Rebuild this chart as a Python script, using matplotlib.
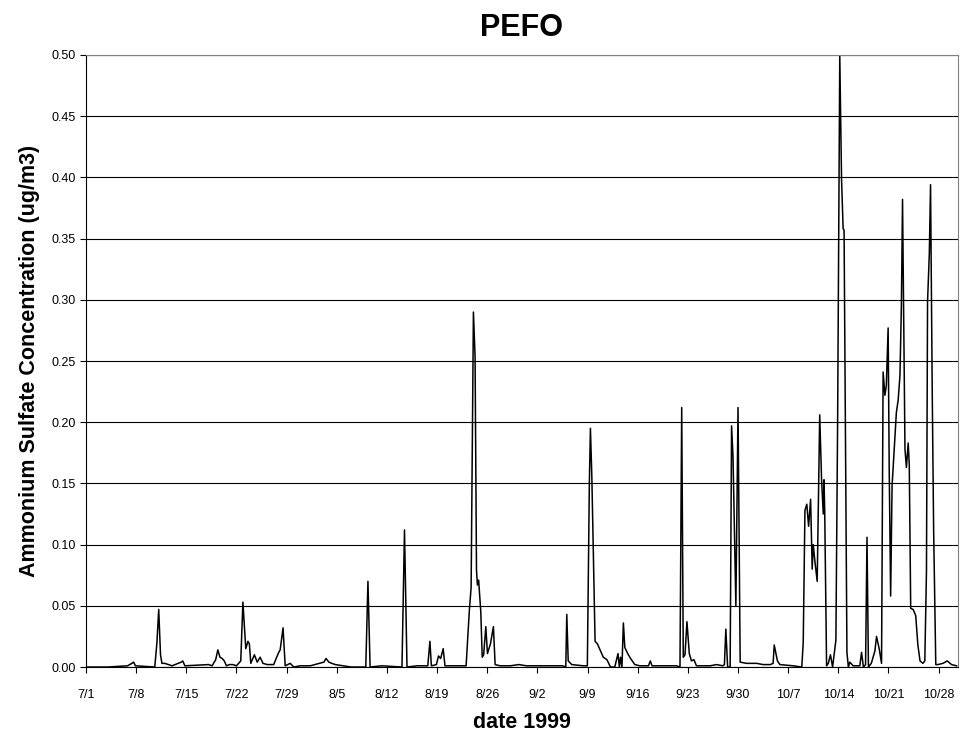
import matplotlib
matplotlib.use("Agg")
import matplotlib.pyplot as plt
import numpy as np
import pandas as pd

plt.rcParams["font.family"] = ["Liberation Sans", "DejaVu Sans"]

# days since 1999-07-01 and ammonium sulfate concentration (ug/m3)
day = [0.0, 3.0, 5.8, 6.4, 6.65, 6.9, 9.6, 9.9, 10.15, 10.4, 10.6, 11.0, 11.5, 12.0,
       13.3, 13.5, 13.8, 17.1, 17.6, 18.1, 18.4, 18.7, 19.0, 19.3, 19.6, 20.0, 20.5,
       21.0, 21.6, 21.9, 22.3, 22.6, 22.8, 23.0, 23.5, 23.9, 24.3, 24.7, 25.3, 26.2,
       26.4, 26.9, 27.1, 27.5, 27.8, 28.5, 29.0, 29.9, 31.3, 33.2, 33.5, 33.9, 34.3,
       34.8, 35.9, 37.0, 39.05, 39.35, 39.65, 41.3, 44.1, 44.45, 44.8, 46.2, 47.7,
       48.0, 48.2, 48.9, 49.2, 49.5, 49.85, 50.1, 51.8, 53.05, 53.5, 53.75, 54.07,
       54.3, 54.5, 54.63, 54.8, 55.1, 55.3, 55.5, 55.8, 56.03, 56.45, 56.86, 57.1,
       57.8, 59.2, 60.4, 61.5, 63.4, 66.5, 66.96, 67.1, 67.3, 67.8, 69.4, 69.97,
       70.25, 70.4, 70.6, 70.9, 71.05, 71.37, 71.74, 72.2, 72.7, 73.2, 73.8, 74.25,
       74.44, 74.6, 74.8, 75.0, 75.2, 75.6, 76.0, 76.6, 77.3, 78.5, 78.76, 79.0,
       80.6, 82.4, 82.9, 83.14, 83.36, 83.6, 83.87, 84.2, 84.5, 84.85, 85.2, 87.1,
       88.0, 88.9, 89.1, 89.3, 89.55, 89.9, 90.1, 90.3, 90.7, 91.0, 91.3, 92.2,
       93.6, 94.5, 95.5, 95.9, 96.05, 96.5, 96.85, 98.7, 99.9, 100.1, 100.34,
       100.6, 100.85, 101.13, 101.35, 101.5, 101.7, 102.05, 102.4, 102.66, 102.9,
       103.0, 103.1, 103.36, 103.6, 103.9, 104.2, 104.66, 104.9, 105.2, 105.45,
       105.67, 105.8, 106.2, 106.4, 106.6, 107.07, 108.0, 108.24, 108.5, 108.8,
       109.0, 109.2, 109.6, 110.1, 110.33, 110.7, 111.03, 111.25, 111.5, 111.7,
       111.95, 112.1, 112.3, 112.5, 112.9, 113.1, 113.35, 113.6, 113.8, 113.96,
       114.14, 114.3, 114.5, 114.75, 114.9, 115.1, 115.44, 115.8, 116.1, 116.4,
       116.8, 117.07, 117.3, 117.45, 117.7, 117.87, 118.1, 118.3, 118.6, 118.9,
       119.6, 120.2, 120.8, 121.5]
conc = [0.000, 0.000, 0.001, 0.003, 0.004, 0.001, 0.000, 0.020, 0.047, 0.010, 0.003,
        0.003, 0.002, 0.001, 0.004, 0.005, 0.001, 0.002, 0.001, 0.006, 0.014, 0.008,
        0.007, 0.005, 0.001, 0.002, 0.002, 0.001, 0.005, 0.053, 0.015, 0.021, 0.019,
        0.003, 0.010, 0.004, 0.008, 0.003, 0.002, 0.002, 0.005, 0.012, 0.014, 0.032,
        0.001, 0.003, 0.000, 0.001, 0.001, 0.004, 0.007, 0.004, 0.003, 0.002, 0.001,
        0.000, 0.000, 0.070, 0.000, 0.001, 0.000, 0.112, 0.000, 0.001, 0.001, 0.021,
        0.001, 0.002, 0.009, 0.007, 0.015, 0.001, 0.001, 0.001, 0.046, 0.065, 0.290,
        0.254, 0.079, 0.067, 0.071, 0.045, 0.008, 0.010, 0.033, 0.011, 0.019, 0.033,
        0.002, 0.001, 0.001, 0.002, 0.001, 0.001, 0.001, 0.000, 0.043, 0.005, 0.002,
        0.001, 0.001, 0.150, 0.195, 0.155, 0.068, 0.021, 0.019, 0.014, 0.008, 0.006,
        0.000, 0.000, 0.011, 0.000, 0.008, 0.000, 0.036, 0.016, 0.011, 0.007, 0.002,
        0.001, 0.001, 0.005, 0.001, 0.001, 0.001, 0.000, 0.212, 0.008, 0.010, 0.037,
        0.011, 0.005, 0.006, 0.001, 0.001, 0.002, 0.001, 0.002, 0.031, 0.000, 0.000,
        0.197, 0.172, 0.050, 0.212, 0.004, 0.003, 0.003, 0.002, 0.002, 0.003, 0.018,
        0.005, 0.002, 0.001, 0.000, 0.020, 0.128, 0.133, 0.115, 0.137, 0.080, 0.100,
        0.088, 0.070, 0.206, 0.153, 0.125, 0.153, 0.127, 0.001, 0.003, 0.010, 0.000,
        0.022, 0.200, 0.500, 0.398, 0.358, 0.357, 0.012, 0.000, 0.004, 0.001, 0.001,
        0.012, 0.000, 0.002, 0.106, 0.000, 0.003, 0.013, 0.025, 0.015, 0.003, 0.241,
        0.222, 0.230, 0.277, 0.162, 0.058, 0.148, 0.187, 0.208, 0.218, 0.238, 0.295,
        0.382, 0.278, 0.178, 0.163, 0.183, 0.165, 0.048, 0.047, 0.042, 0.018, 0.005,
        0.003, 0.005, 0.078, 0.298, 0.338, 0.394, 0.228, 0.112, 0.002, 0.002, 0.003,
        0.005, 0.002, 0.001]

tick_labels = ["7/1", "7/8", "7/15", "7/22", "7/29", "8/5", "8/12", "8/19", "8/26",
               "9/2", "9/9", "9/16", "9/23", "9/30", "10/7", "10/14", "10/21", "10/28"]

start = pd.Timestamp("1999-07-01")
tick_days = [(pd.Timestamp("1999/" + t) - start).days for t in tick_labels]

fig = plt.figure(figsize=(9.63, 7.33), dpi=100)
ax = fig.add_axes([0.0893, 0.090, 0.9055, 0.835])

ax.plot(day, conc, color="black", lw=1.1)

ax.set_xlim(0, 121.7)
ax.set_ylim(0, 0.5)
ax.set_yticks(np.arange(0, 0.501, 0.05))
ax.set_yticklabels([f"{v:.2f}" for v in np.arange(0, 0.501, 0.05)])
ax.set_xticks(tick_days)
ax.set_xticklabels(tick_labels)
ax.tick_params(axis="both", labelsize=9, length=4, direction="out", width=0.8)
ax.tick_params(axis="x", pad=12)

ax.grid(axis="y", color="black", lw=0.8)
ax.set_axisbelow(True)
for s in ["top", "right"]:
    ax.spines[s].set_color("#808080")

ax.set_title("PEFO", fontsize=22, fontweight="bold", pad=14)
ax.set_xlabel("date 1999", fontsize=15.5, fontweight="bold", labelpad=8)
ax.set_ylabel("Ammonium Sulfate Concentration (ug/m3)", fontsize=15.5, fontweight="bold", labelpad=8)

plt.savefig("out.png", dpi=100)
